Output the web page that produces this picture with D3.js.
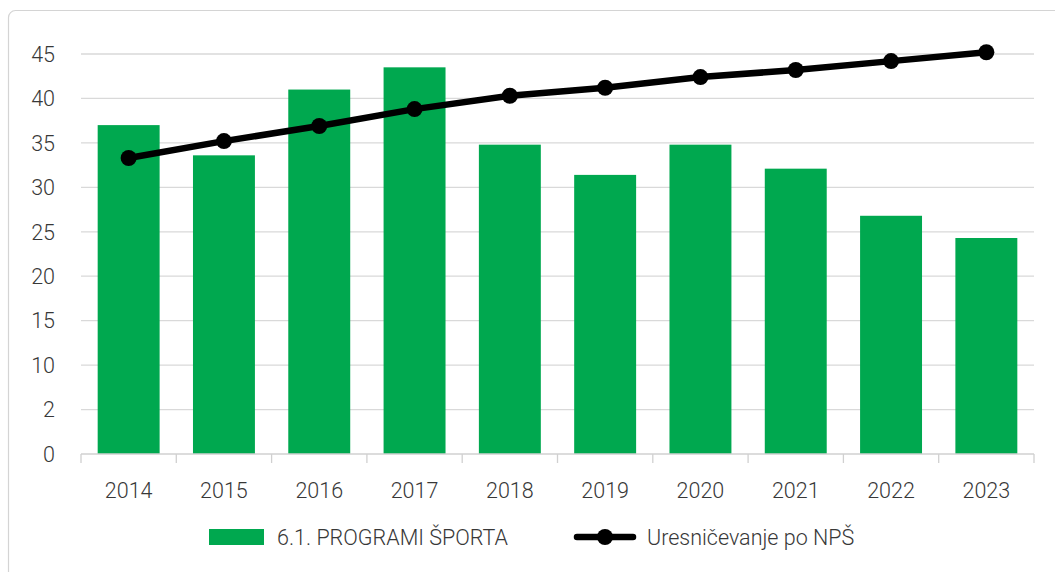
<!DOCTYPE html>
<html>
<head>
<meta charset="utf-8">
<script src="https://cdn.jsdelivr.net/npm/d3@7"></script>
<style>
  body { margin: 0; background: #fff; }
  text { font-family: Roboto, "Noto Sans", sans-serif; font-weight: 300; fill: #383838; }
</style>
</head>
<body>
<svg id="chart" width="1055" height="572"></svg>
<script>
// data
const years = ["2014", "2015", "2016", "2017", "2018", "2019", "2020", "2021", "2022", "2023"];
const programi = [37.0, 33.6, 41.0, 43.5, 34.8, 31.4, 34.8, 32.1, 26.8, 24.3];
const nps = [33.3, 35.2, 36.9, 38.8, 40.3, 41.2, 42.4, 43.2, 44.2, 45.2];
const yTicks = [0, 5, 10, 15, 20, 25, 30, 35, 40, 45];
const yTickLabels = ["0", "2", "10", "15", "20", "25", "30", "35", "40", "45"];
const seriesNames = ["6.1. PROGRAMI ŠPORTA", "Uresničevanje po NPŠ"];

const green = "#00a84f";
const svg = d3.select("#chart");

// frame (cut off at right and bottom, as in the picture)
svg.append("rect")
  .attr("x", 8.5).attr("y", 10.5)
  .attr("width", 1070).attr("height", 600)
  .attr("rx", 7)
  .attr("fill", "none")
  .attr("stroke", "#d4d4d4")
  .attr("stroke-width", 1.2);

// plot extents
const plotL = 81, plotR = 1034, plotT = 54, plotB = 454;

const x = d3.scaleBand().domain(years).range([plotL, plotR]).paddingInner(0.35).paddingOuter(0.175);
const y = d3.scaleLinear().domain([0, 45]).range([plotB, plotT]);

// gridlines
svg.append("g")
  .selectAll("line")
  .data(yTicks.filter(d => d > 0))
  .join("line")
  .attr("x1", plotL).attr("x2", plotR)
  .attr("y1", d => y(d)).attr("y2", d => y(d))
  .attr("stroke", "#d9d9d9")
  .attr("stroke-width", 1.3);

// y labels
svg.append("g")
  .selectAll("text")
  .data(yTicks)
  .join("text")
  .attr("x", 55)
  .attr("y", d => y(d))
  .attr("dy", "0.36em")
  .attr("text-anchor", "end")
  .attr("font-size", 21.5)
  .text((d, i) => yTickLabels[i]);

// bars
svg.append("g")
  .selectAll("rect")
  .data(programi)
  .join("rect")
  .attr("x", (d, i) => x(years[i]))
  .attr("y", d => y(d))
  .attr("width", x.bandwidth())
  .attr("height", d => y(0) - y(d))
  .attr("fill", green);

// x axis line and ticks at category boundaries
const step = x.step();
svg.append("line")
  .attr("x1", plotL).attr("x2", plotR)
  .attr("y1", plotB).attr("y2", plotB)
  .attr("stroke", "#d0d0d0").attr("stroke-width", 1.3);
svg.append("g")
  .selectAll("line")
  .data(d3.range(years.length + 1))
  .join("line")
  .attr("x1", i => plotL + i * step).attr("x2", i => plotL + i * step)
  .attr("y1", plotB).attr("y2", plotB + 9)
  .attr("stroke", "#d0d0d0").attr("stroke-width", 1.3);

// x labels
svg.append("g")
  .selectAll("text")
  .data(years)
  .join("text")
  .attr("x", d => x(d) + x.bandwidth() / 2)
  .attr("y", 498)
  .attr("text-anchor", "middle")
  .attr("font-size", 21.5)
  .text(d => d);

// line series
const cx = i => x(years[i]) + x.bandwidth() / 2;
const line = d3.line().x((d, i) => cx(i)).y(d => y(d));
svg.append("path")
  .datum(nps)
  .attr("d", line)
  .attr("fill", "none")
  .attr("stroke", "#000")
  .attr("stroke-width", 6.5);
svg.append("g")
  .selectAll("circle")
  .data(nps)
  .join("circle")
  .attr("cx", (d, i) => cx(i))
  .attr("cy", d => y(d))
  .attr("r", 8)
  .attr("fill", "#000");

// legend
const lg = svg.append("g");
lg.append("rect")
  .attr("x", 209).attr("y", 529)
  .attr("width", 55).attr("height", 16)
  .attr("fill", green);
lg.append("text")
  .attr("x", 277).attr("y", 537)
  .attr("dy", "0.36em")
  .attr("font-size", 21.5)
  .text(seriesNames[0]);
lg.append("line")
  .attr("x1", 577).attr("x2", 633)
  .attr("y1", 537).attr("y2", 537)
  .attr("stroke", "#000").attr("stroke-width", 6.5)
  .attr("stroke-linecap", "round");
lg.append("circle")
  .attr("cx", 605).attr("cy", 537).attr("r", 8)
  .attr("fill", "#000");
lg.append("text")
  .attr("x", 647).attr("y", 537)
  .attr("dy", "0.36em")
  .attr("font-size", 21.5)
  .text(seriesNames[1]);
</script>
</body>
</html>
